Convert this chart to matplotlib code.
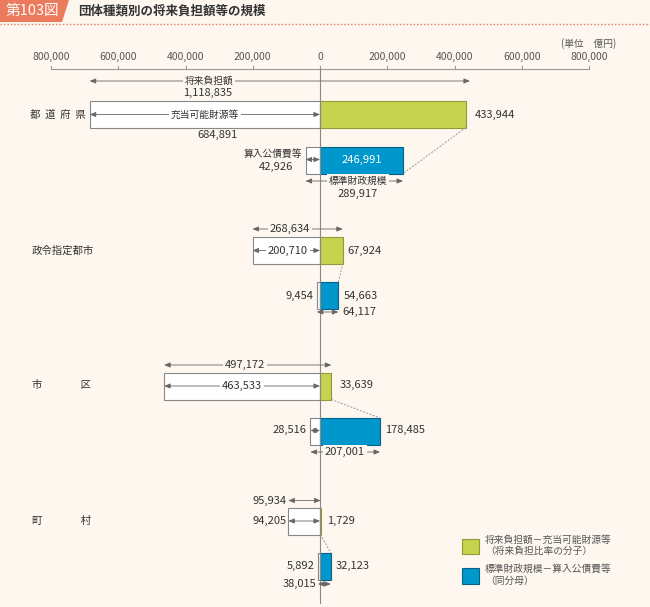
import matplotlib.pyplot as plt
from matplotlib.patches import Polygon, Patch

plt.rcParams['font.family'] = ['Noto Sans CJK JP', 'DejaVu Sans']

# 団体種類別の将来負担額等 (単位 億円)
groups = ['都  道  府  県', '政令指定都市', '市　　　   区', '町　　　   村']
future_burden = [1118835, 268634, 497172, 95934]      # 将来負担額
appropriable = [684891, 200710, 463533, 94205]        # 充当可能財源等
numerator = [433944, 67924, 33639, 1729]              # 将来負担額－充当可能財源等
std_scale = [289917, 64117, 207001, 38015]            # 標準財政規模
debt_service = [42926, 9454, 28516, 5892]             # 算入公債費等
denominator = [246991, 54663, 178485, 32123]          # 標準財政規模－算入公債費等
tick_values = [-800000, -600000, -400000, -200000, 0, 200000, 400000, 600000, 800000]

BG = '#fdf7f0'
ORANGE = '#ec7a5c'
GREEN = '#c6d34e'
GREEN_EDGE = '#8f9c35'
BLUE = '#0098cc'
BLUE_EDGE = '#0a5f86'
TEXT = '#333333'
GRAY = '#666666'
NUM = 8
K = 269 / 800000  # pixels per unit


def px(x):
    return (x - 320) / K


def fmt(v):
    return f'{v:,}'


fig = plt.figure(figsize=(6.5, 6.07), dpi=100, facecolor=BG)
ax = fig.add_axes([0, 0, 1, 1])
ax.set_xlim(px(0), px(650))
ax.set_ylim(607, 0)
ax.axis('off')


def arrow(x0, x1, y):
    ax.annotate('', xy=(x1, y), xytext=(x0, y),
                arrowprops=dict(arrowstyle='<|-|>,head_length=0.6,head_width=0.25',
                                mutation_scale=6, lw=0.6, color=GRAY,
                                shrinkA=0, shrinkB=0))


def label(x, y, s, ha='center', bg=None, size=NUM, color=TEXT):
    bbox = dict(fc=bg, ec='none', pad=1.2) if bg else None
    ax.text(x, y, s, ha=ha, va='center', fontsize=size, color=color, bbox=bbox)


# title banner
ax.add_patch(Polygon([(px(0), 0), (px(69), 0), (px(62), 22), (px(0), 22)],
                     closed=True, fc=ORANGE, ec='none'))
ax.text(px(32), 11, '第103図', ha='center', va='center', fontsize=10.5, color='white')
ax.text(px(78), 11, '団体種類別の将来負担額等の規模', ha='left', va='center',
        fontsize=9, fontweight='bold', color=TEXT)
ax.plot([px(0), px(650)], [23.5, 23.5], ls=(0, (1, 1.5)), color=ORANGE, lw=1)

# value axis at top
ax.plot([tick_values[0], tick_values[-1]], [69, 69], color='#999999', lw=0.8)
for t in tick_values:
    ax.plot([t, t], [65.5, 69], color='#999999', lw=0.8)
    ax.text(t, 56.5, fmt(abs(t)), ha='center', va='center', fontsize=7.5, color='#555555')
ax.text(px(589), 44, '(単位　億円)', ha='center', va='center', fontsize=7, color='#555555')
ax.plot([0, 0], [69, 603], color='#888888', lw=0.8)

y_top = [101, 237, 373, 508]
y_low = [147, 282, 418, 553]
bar_h = 26.5

for i in range(4):
    yc = y_top[i] + bar_h / 2
    ax.barh(yc, -appropriable[i], height=bar_h, color='white', edgecolor='#888888', lw=0.8)
    ax.barh(yc, numerator[i], height=bar_h, color=GREEN, edgecolor=GREEN_EDGE, lw=0.8)
    yl = y_low[i] + bar_h / 2
    ax.barh(yl, -debt_service[i], height=bar_h, color='white', edgecolor='#888888', lw=0.8)
    ax.barh(yl, denominator[i], height=bar_h, color=BLUE, edgecolor=BLUE_EDGE, lw=0.8)

# 都道府県
arrow(-appropriable[0], numerator[0] + 12000, 81)
label(px(209), 81, '将来負担額', bg=BG, size=7)
label(px(208), 93, fmt(future_burden[0]))
arrow(-appropriable[0], 0, 114.5)
label(px(205), 114.5, '充当可能財源等', bg='white', size=7)
label(px(218), 135, fmt(appropriable[0]))
label(px(475), 115, fmt(numerator[0]), ha='left')
arrow(-debt_service[0], 0, 159.5)
label(px(302), 153.5, '算入公債費等', ha='right', size=7)
label(px(276), 166.5, fmt(debt_service[0]))
label(denominator[0] / 2, 159.5, fmt(denominator[0]), color='white')
ax.plot([numerator[0], denominator[0]], [y_top[0] + bar_h, y_low[0] + bar_h],
        ls=(0, (2, 1.5)), color='#999999', lw=0.7)
arrow(-debt_service[0], denominator[0], 181)
label(px(358), 181, '標準財政規模', bg=BG, size=7)
label(px(358), 194, fmt(std_scale[0]))
label(px(30), 115, groups[0], ha='left', size=7.5)

# 政令指定都市
arrow(-appropriable[1], numerator[1], 229)
label(px(290), 229, fmt(future_burden[1]), bg=BG)
arrow(-appropriable[1], 0, 250.5)
label(px(288), 250.5, fmt(appropriable[1]), bg='white')
label(px(347), 251, fmt(numerator[1]), ha='left')
label(px(313), 296, fmt(debt_service[1]), ha='right')
label(px(344), 296, fmt(denominator[1]), ha='left')
ax.plot([numerator[1], denominator[1]], [y_top[1] + bar_h, y_low[1]],
        ls=(0, (2, 1.5)), color='#999999', lw=0.7)
arrow(-debt_service[1], denominator[1], 312)
label(px(342), 312, fmt(std_scale[1]), ha='left')
label(px(32), 251, groups[1], ha='left', size=7.5)

# 市区
arrow(-appropriable[2], numerator[2], 365)
label(px(245), 365, fmt(future_burden[2]), bg=BG)
arrow(-appropriable[2], 0, 386)
label(px(242), 386, fmt(appropriable[2]), bg='white')
label(px(340), 385, fmt(numerator[2]), ha='left')
arrow(-debt_service[2], 0, 430.5)
label(px(307), 430, fmt(debt_service[2]), ha='right')
label(px(385), 430, fmt(denominator[2]), ha='left')
ax.plot([numerator[2], denominator[2]], [y_top[2] + bar_h, y_low[2]],
        ls=(0, (2, 1.5)), color='#999999', lw=0.7)
arrow(-debt_service[2], denominator[2], 452)
label(px(345), 452, fmt(std_scale[2]), bg=BG)
label(px(32), 385, groups[2], ha='left', size=7.5)

# 町村
arrow(-appropriable[3], numerator[3], 500.5)
label(px(287), 500.5, fmt(future_burden[3]), ha='right')
arrow(-appropriable[3], 0, 521)
label(px(287), 521, fmt(appropriable[3]), ha='right')
label(px(327), 521, fmt(numerator[3]), ha='left')
label(px(315), 566, fmt(debt_service[3]), ha='right')
label(px(336), 566, fmt(denominator[3]), ha='left')
ax.plot([numerator[3], denominator[3]], [y_top[3] + bar_h, y_low[3]],
        ls=(0, (2, 1.5)), color='#999999', lw=0.7)
arrow(-debt_service[3], denominator[3], 584)
label(px(316), 584, fmt(std_scale[3]), ha='right')
label(px(32), 521, groups[3], ha='left', size=7.5)

# legend
handles = [Patch(fc=GREEN, ec=GREEN_EDGE, lw=0.8), Patch(fc=BLUE, ec=BLUE_EDGE, lw=0.8)]
labels = ['将来負担額－充当可能財源等\n（将来負担比率の分子）',
          '標準財政規模－算入公債費等\n（同分母）']
leg = ax.legend(handles, labels, loc='upper left', bbox_to_anchor=(453 / 650, 1 - 526 / 607),
                bbox_transform=fig.transFigure, frameon=False, fontsize=7,
                handlelength=1.8, handleheight=2.1, handletextpad=0.6, labelspacing=0.8)
for t in leg.get_texts():
    t.set_color('#555555')

fig.savefig('out.png', dpi=100, facecolor=BG)
